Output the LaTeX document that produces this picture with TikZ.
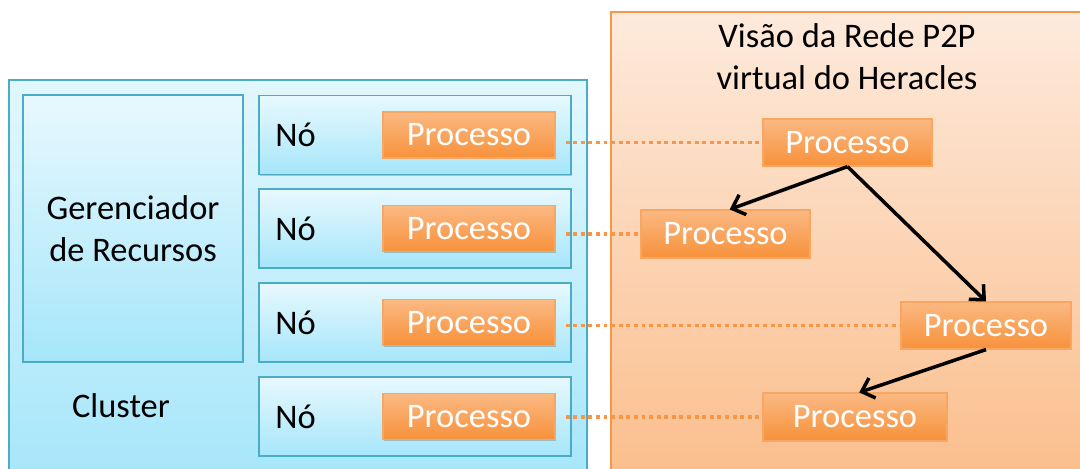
\documentclass[tikz,border=0pt]{standalone}
\usepackage{fontspec}
\setmainfont{Carlito}
\usetikzlibrary{arrows.meta,shadows}

\definecolor{cyanline}{HTML}{4BACC6}
\definecolor{cyantop}{HTML}{E2F7FE}
\definecolor{cyanbot}{HTML}{A6E6FA}
\definecolor{orline}{HTML}{F79646}
\definecolor{ortop}{HTML}{FBB983}
\definecolor{orbot}{HTML}{F7913A}
\definecolor{peachtop}{HTML}{FDEADC}
\definecolor{peachbot}{HTML}{FBBE8C}

\tikzset{
  txt/.style={font=\fontsize{24.5}{30}\selectfont, text=black},
  softshadow/.style={drop shadow={shadow xshift=0.6pt, shadow yshift=-0.9pt, opacity=0.35, fill=black!60}},
  clusterbox/.style={draw=cyanline, line width=1pt, top color=cyantop, bottom color=cyanbot, inner sep=0pt},
  innerbox/.style={draw=cyanline, line width=1pt, top color=cyantop!80!white, bottom color=cyanbot, softshadow, inner sep=0pt},
  peachbox/.style={draw=orline, line width=1pt, top color=peachtop, bottom color=peachbot, inner sep=0pt},
  procbox/.style={draw=orline!85!white, line width=0.8pt, top color=ortop, bottom color=orbot, softshadow,
    text=white, font=\fontsize{24.5}{30}\selectfont, inner sep=0pt},
  dotline/.style={draw=orline, line width=2.8pt, dash pattern=on 2.8pt off 2.6pt},
  flow/.style={draw=black, line width=2.5pt, -{Straight Barb[length=8pt, width=15pt, line width=2.5pt]}},
}

\begin{document}
\begin{tikzpicture}[x=0.025cm, y=-0.025cm]
  \useasboundingbox (0,0) rectangle (1080,468);

  % outer frames
  \node[clusterbox, minimum width=14.45cm, minimum height=10cm] (cluster) at (298,280) {};
  \node[peachbox, minimum width=11.975cm, minimum height=11.7cm] (view) at (850.5,246) {};

  % resource manager
  \node[innerbox, minimum width=5.5cm, minimum height=6.675cm, txt, align=center] (ger) at (133,228.5)
    {Gerenciador\\de Recursos};
  \node[txt, inner sep=0pt] (clus) at (121,406) {Cluster};

  % cluster nodes, each running one process
  \foreach \i/\y in {1/135, 2/228.5, 3/322.5, 4/416.5} {
    \node[innerbox, minimum width=7.8cm, minimum height=1.975cm] (no\i) at (415,\y) {};
    \node[txt, anchor=west, inner sep=0pt] (nl\i) at (275,\y) {Nó};
    \node[procbox, minimum width=4.3cm, minimum height=1.15cm] (l\i) at (469,\y) {Processo};
  }

  % virtual P2P view
  \node[txt, align=center, inner sep=0pt] (title) at (847,57) {Visão da Rede P2P\\virtual do Heracles};
  \node[procbox, minimum width=4.225cm, minimum height=1.175cm] (r1) at (847.5,142.5) {Processo};
  \node[procbox, minimum width=4.225cm, minimum height=1.2cm] (r2) at (725.5,234) {Processo};
  \node[procbox, minimum width=4.25cm, minimum height=1.175cm] (r3) at (986,325.5) {Processo};
  \node[procbox, minimum width=4.6cm, minimum height=1.2cm] (r4) at (855,417) {Processo};

  % mapping of each process onto the overlay
  \foreach \i in {1,2,3,4} {
    \path ([xshift=0.25cm]l\i.east) coordinate (s\i);
    \draw[dotline] (s\i |- r\i.west) -- (r\i.west);
  }

  % overlay links
  \draw[flow] (r1.south) -- ([xshift=3pt]r2.north);
  \draw[flow] (r1.south) -- (r3.north);
  \draw[flow] (r3.south) -- ([xshift=3pt]r4.north);
\end{tikzpicture}
\end{document}
